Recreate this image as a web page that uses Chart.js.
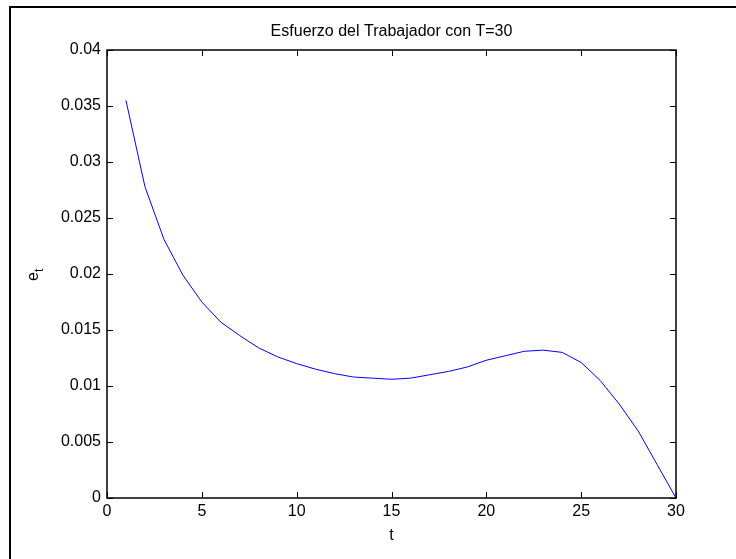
<!DOCTYPE html>
<html>
<head>
<meta charset="utf-8">
<script src="https://cdn.jsdelivr.net/npm/chart.js@4/dist/chart.umd.min.js"></script>
<style>
  html, body { margin: 0; padding: 0; background: #fff; }
  #wrap { width: 736px; height: 559px; position: relative; }
</style>
</head>
<body>
<div id="wrap"><canvas id="chart"></canvas></div>
<script>
// Datos
const periodos = [1,2,3,4,5,6,7,8,9,10,11,12,13,14,15,16,17,18,19,20,21,22,23,24,25,26,27,28,29,30];
const esfuerzo = [0.0355,0.0278,0.0231,0.0199,0.0175,0.0157,0.0145,0.0134,0.0126,0.0120,
                  0.0115,0.0111,0.0108,0.0107,0.0106,0.0107,0.0110,0.0113,0.0117,0.0123,
                  0.0127,0.0131,0.0132,0.0130,0.0121,0.0105,0.0084,0.0060,0.0030,0];
const xTicks = [0,5,10,15,20,25,30];
const yTicks = [0,0.005,0.01,0.015,0.02,0.025,0.03,0.035,0.04];
const titulo = 'Esfuerzo del Trabajador con T=30';

const FONT = '"Liberation Sans", Arial, sans-serif';

// Caja, marcas internas y textos estilo MATLAB
const matlabBox = {
    id: 'matlabBox',
    afterDraw(chart) {
        const { ctx, chartArea: a, scales } = chart;
        ctx.save();
        // marco exterior de la figura
        ctx.strokeStyle = '#000';
        ctx.lineWidth = 2;
        ctx.beginPath();
        ctx.moveTo(10, 560);
        ctx.lineTo(10, 7);
        ctx.lineTo(740, 7);
        ctx.stroke();

        // caja de los ejes
        ctx.lineWidth = 1.5;
        ctx.strokeRect(a.left, a.top, a.right - a.left, a.bottom - a.top);

        // marcas hacia dentro en los cuatro lados
        ctx.lineWidth = 1;
        const tl = 6;
        ctx.beginPath();
        xTicks.forEach(v => {
            const x = Math.round(scales.x.getPixelForValue(v)) + 0.5;
            ctx.moveTo(x, a.bottom); ctx.lineTo(x, a.bottom - tl);
            ctx.moveTo(x, a.top); ctx.lineTo(x, a.top + tl);
        });
        yTicks.forEach(v => {
            const y = Math.round(scales.y.getPixelForValue(v)) + 0.5;
            ctx.moveTo(a.left, y); ctx.lineTo(a.left + tl, y);
            ctx.moveTo(a.right, y); ctx.lineTo(a.right - tl, y);
        });
        ctx.stroke();

        // título
        ctx.fillStyle = '#000';
        ctx.font = '16px ' + FONT;
        ctx.textAlign = 'center';
        ctx.textBaseline = 'alphabetic';
        ctx.fillText(titulo, (a.left + a.right) / 2, 36);

        // etiqueta eje x
        ctx.fillText('t', (a.left + a.right) / 2, 540);

        // etiqueta eje y: e con subíndice t
        ctx.translate(38, (a.top + a.bottom) / 2);
        ctx.rotate(-Math.PI / 2);
        ctx.textAlign = 'left';
        ctx.font = '16px ' + FONT;
        ctx.fillText('e', -7, 0);
        ctx.font = '12px ' + FONT;
        ctx.fillText('t', 2, 5);
        ctx.restore();
    }
};

new Chart(document.getElementById('chart'), {
    type: 'line',
    data: {
        datasets: [{
            data: periodos.map((t, i) => ({ x: t, y: esfuerzo[i] })),
            borderColor: '#0000ff',
            borderWidth: 1,
            pointRadius: 0,
            tension: 0,
            fill: false
        }]
    },
    options: {
        responsive: true,
        maintainAspectRatio: false,
        animation: false,
        layout: { padding: { top: 50, right: 60, left: 0, bottom: 0 } },
        plugins: { legend: { display: false }, tooltip: { enabled: false }, title: { display: false } },
        scales: {
            x: {
                type: 'linear',
                min: 0, max: 30,
                afterBuildTicks: s => { s.ticks = xTicks.map(v => ({ value: v })); },
                afterFit: s => { s.height = 61; },
                grid: { display: false, drawTicks: false },
                border: { display: false },
                ticks: { color: '#000', font: { family: FONT, size: 16 }, padding: 4, maxRotation: 0,
                         callback: v => String(v) }
            },
            y: {
                type: 'linear',
                min: 0, max: 0.04,
                afterBuildTicks: s => { s.ticks = yTicks.map(v => ({ value: v })); },
                afterFit: s => { s.width = 107; },
                grid: { display: false, drawTicks: false },
                border: { display: false },
                ticks: { color: '#000', font: { family: FONT, size: 16 }, padding: 6,
                         callback: v => String(+v.toFixed(3)) }
            }
        }
    },
    plugins: [matlabBox]
});
</script>
</body>
</html>
